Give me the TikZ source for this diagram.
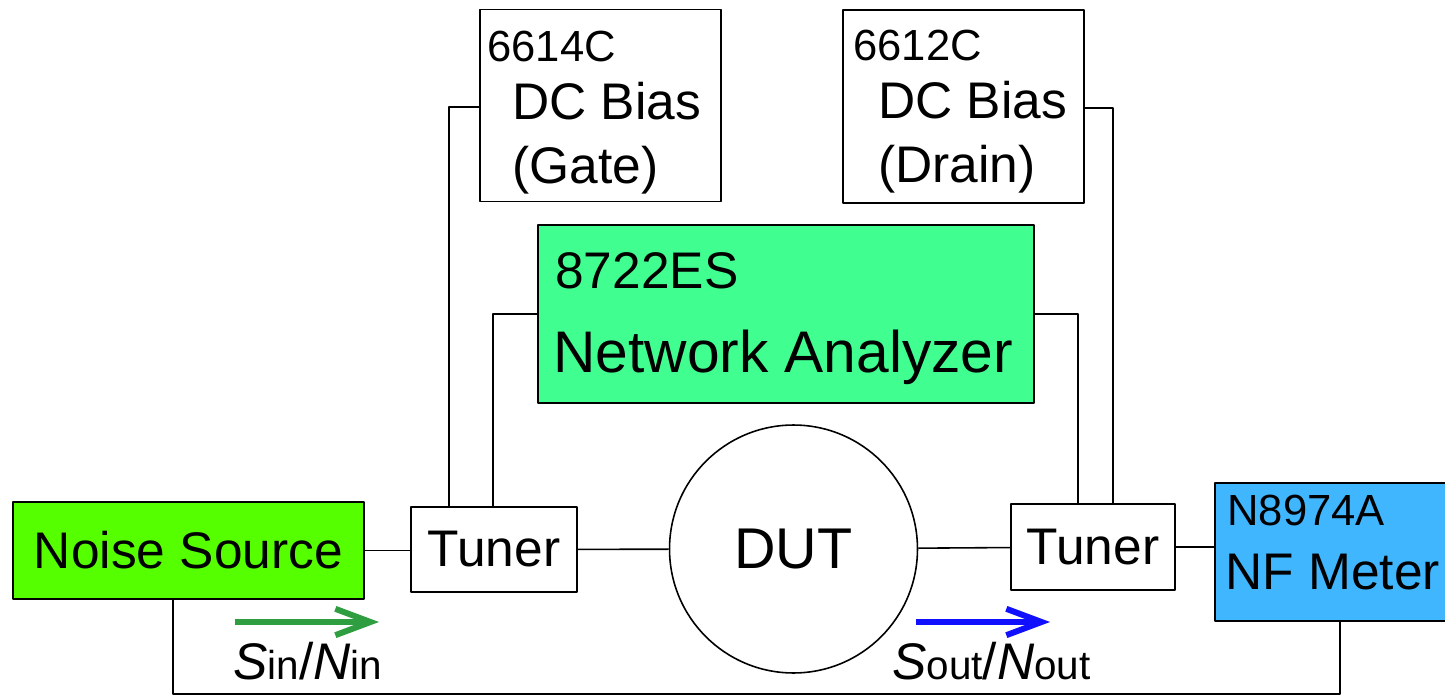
\documentclass[tikz,border=0pt]{standalone}
\usepackage{fontspec}
\setmainfont{Liberation Sans}
\usetikzlibrary{arrows.meta}

\definecolor{vertsource}{RGB}{85,255,0}
\definecolor{vertanalyseur}{RGB}{64,255,144}
\definecolor{bleumetre}{RGB}{64,182,255}
\definecolor{vertfleche}{RGB}{46,158,64}
\definecolor{bleufleche}{RGB}{16,16,255}

\newcommand{\taillepetit}{\fontsize{24.8}{28}\selectfont}
\newcommand{\tailleindice}{\fontsize{23}{26}\selectfont}
\newcommand{\taillegrand}{\fontsize{29.3}{34}\selectfont}
\newcommand{\tailleva}{\fontsize{33.4}{38}\selectfont}
\newcommand{\tailledut}{\fontsize{32.7}{38}\selectfont}

\begin{document}
\begin{tikzpicture}[x=0.02cm, y=-0.02cm, line join=round,
    bloc/.style={draw, line width=0.9pt, inner sep=0pt},
    texte/.style={anchor=base west, inner sep=0pt},
    fil/.style={line width=0.9pt},
    signal/.style={line width=3.4pt, -{Straight Barb[length=20pt,width=15pt]}}]
  \useasboundingbox (0,0) rectangle (1445,696);

  % Chaîne de mesure (source -> tuner -> DUT -> tuner -> mesureur)
  \node[bloc, fill=vertsource, minimum width=7.02cm, minimum height=1.94cm, font=\taillegrand] (source) at (188.5,550.5) {Noise Source};
  \node[bloc, minimum width=3.32cm, minimum height=1.7cm, font=\taillegrand] (tunerE) at (494,549.5) {Tuner};
  \node[bloc, circle, minimum size=4.96cm, font=\tailledut] (dut) at (793.5,549) {DUT};
  \node[bloc, minimum width=3.28cm, minimum height=1.72cm, font=\taillegrand] (tunerS) at (1093,547) {Tuner};
  \node[bloc, fill=bleumetre, minimum width=4.9cm, minimum height=2.76cm] (nf) at (1337.5,552) {};

  % Instruments du haut
  \node[bloc, minimum width=4.82cm, minimum height=3.84cm] (grille) at (600.5,105.5) {};
  \node[bloc, minimum width=4.82cm, minimum height=3.86cm] (drain) at (963.5,106.5) {};
  \node[bloc, fill=vertanalyseur, minimum width=9.92cm, minimum height=3.56cm] (va) at (786,314) {};

  % Textes des instruments
  \node[texte, font=\taillepetit] (refG) at (487,62) {6614C};
  \node[texte, font=\taillegrand] (biasG) at (512,120) {DC Bias};
  \node[texte, font=\taillegrand] (gate) at (512,184) {(Gate)};
  \node[texte, font=\taillepetit] (refD) at (853,61) {6612C};
  \node[texte, font=\taillegrand] (biasD) at (878,119) {DC Bias};
  \node[texte, font=\taillegrand] (drainlbl) at (878,183) {(Drain)};
  \node[texte, font=\taillegrand] (refVA) at (555,288) {8722ES};
  \node[texte, font=\tailleva] (nomVA) at (553,372) {Network Analyzer};
  \node[texte, font=\taillepetit] (refNF) at (1227,525) {N8974A};
  \node[texte, font=\taillegrand] (nomNF) at (1225,589) {NF Meter};

  % Liaisons horizontales
  \draw[fil] (source.east) -- (tunerE.west |- source.east);
  \draw[fil] (tunerE) -- (dut);
  \draw[fil] (dut) -- (tunerS);
  \draw[fil] (tunerS.east) -- (nf.west |- tunerS.east);

  % Polarisations et analyseur vers les tuners
  \coordinate (coudeG) at (449,107);
  \coordinate (coudeVAg) at (493,314);
  \coordinate (coudeVAd) at (1078,314);
  \coordinate (coudeD) at (1113,108);
  \draw[fil] (grille.west |- coudeG) -- (coudeG) -- (coudeG |- tunerE.north);
  \draw[fil] (va.west) -- (coudeVAg) -- (coudeVAg |- tunerE.north);
  \draw[fil] (va.east) -- (coudeVAd) -- (coudeVAd |- tunerS.north);
  \draw[fil] (drain.east |- coudeD) -- (coudeD) -- (coudeD |- tunerS.north);

  % Retour source -> mesureur
  \coordinate (basG) at (173,694);
  \coordinate (basD) at (1340,694);
  \draw[fil] (source.south -| basG) -- (basG) -- (basD) -- (nf.south -| basD);

  % Sens du signal
  \coordinate (sinA) at (235,622);
  \coordinate (sinB) at (379,622);
  \coordinate (soutA) at (916,622);
  \coordinate (soutB) at (1050,622);
  \draw[signal, vertfleche] (sinA) -- (sinB);
  \draw[signal, bleufleche] (soutA) -- (soutB);
  \node[texte, font=\taillegrand] (sinlbl) at (233,679) {\textit{S}{\tailleindice in}/\textit{N}{\tailleindice in}};
  \node[texte, font=\taillegrand] (soutlbl) at (892,679) {\textit{S}{\tailleindice out}/\textit{N}{\tailleindice out}};
\end{tikzpicture}
\end{document}
